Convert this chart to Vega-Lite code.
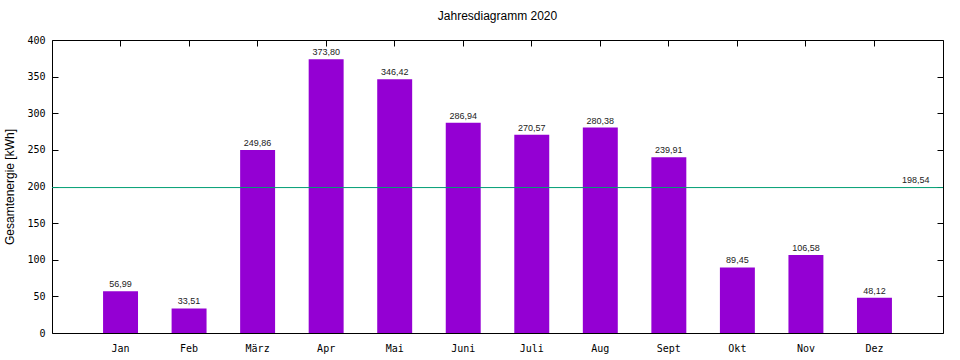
{
  "$schema": "https://vega.github.io/schema/vega-lite/v6.json",
  "width": 891,
  "height": 293,
  "autosize": {"type": "none"},
  "padding": {"left": 52, "top": 40, "right": 17, "bottom": 27},
  "background": "white",
  "title": {"text": "Jahresdiagramm 2020", "font": "Liberation Sans", "fontSize": 12, "fontWeight": "normal", "color": "#000000", "anchor": "middle", "offset": 12},
  "config": {
    "view": {"stroke": "#000000", "strokeWidth": 1},
    "axis": {"domain": false, "grid": false, "tickColor": "#000000", "labelColor": "#000000", "labelFont": "DejaVu Sans Mono", "labelFontSize": 10}
  },
  "data": {"values": [
    {"Monat": "Jan", "kWh": 56.99},
    {"Monat": "Feb", "kWh": 33.51},
    {"Monat": "März", "kWh": 249.86},
    {"Monat": "Apr", "kWh": 373.80},
    {"Monat": "Mai", "kWh": 346.42},
    {"Monat": "Juni", "kWh": 286.94},
    {"Monat": "Juli", "kWh": 270.57},
    {"Monat": "Aug", "kWh": 280.38},
    {"Monat": "Sept", "kWh": 239.91},
    {"Monat": "Okt", "kWh": 89.45},
    {"Monat": "Nov", "kWh": 106.58},
    {"Monat": "Dez", "kWh": 48.12}
  ]},
  "transform": [{"calculate": "replace(format(datum.kWh, '.2f'), '.', ',')", "as": "Label"}],
  "layer": [
    {
      "encoding": {
        "x": {"field": "Monat", "type": "nominal", "sort": null,
          "scale": {"paddingInner": 0.49, "paddingOuter": 0.745},
          "axis": {"title": null, "labelAngle": 0, "tickSize": -6, "labelPadding": 16, "orient": "bottom"}},
        "y": {"field": "kWh", "type": "quantitative",
          "scale": {"domain": [0, 400], "nice": false},
          "axis": {"title": "Gesamtenergie [kWh]", "titleFont": "Liberation Sans", "titleFontSize": 12, "titleFontWeight": "normal", "titleColor": "#000000", "titlePadding": 10, "values": [0, 50, 100, 150, 200, 250, 300, 350, 400], "tickSize": -6, "labelPadding": 13}}
      },
      "layer": [
        {"mark": {"type": "bar", "color": "#9400d3"}},
        {"mark": {"type": "text", "baseline": "bottom", "dy": -2, "font": "Liberation Sans", "fontSize": 9, "color": "#222222"},
         "encoding": {"text": {"field": "Label"}}},
        {"data": {"values": [{"Mittel": 198.54}]},
         "mark": {"type": "rule", "color": "#009e73", "strokeWidth": 1},
         "encoding": {"x": null, "y": {"field": "Mittel", "type": "quantitative"}}},
        {"data": {"values": [{"Mittel": 198.54, "Text": "198,54", "Monat": "Dez"}]},
         "mark": {"type": "text", "align": "right", "baseline": "bottom", "dx": 55, "dy": -3, "font": "Liberation Sans", "fontSize": 9, "color": "#222222"},
         "encoding": {"x": {"field": "Monat", "type": "nominal", "sort": null}, "y": {"field": "Mittel", "type": "quantitative"}, "text": {"field": "Text"}}}
      ]
    },
    {"mark": {"type": "tick", "opacity": 0},
     "encoding": {
       "x": {"field": "Monat", "type": "nominal", "sort": null, "axis": {"orient": "top", "title": null, "labels": false, "tickSize": -6}},
       "y": {"field": "kWh", "type": "quantitative", "axis": {"orient": "right", "title": null, "labels": false, "tickSize": -6, "values": [0, 50, 100, 150, 200, 250, 300, 350, 400]}}
     }}
  ],
  "resolve": {"axis": {"x": "independent", "y": "independent"}}
}
